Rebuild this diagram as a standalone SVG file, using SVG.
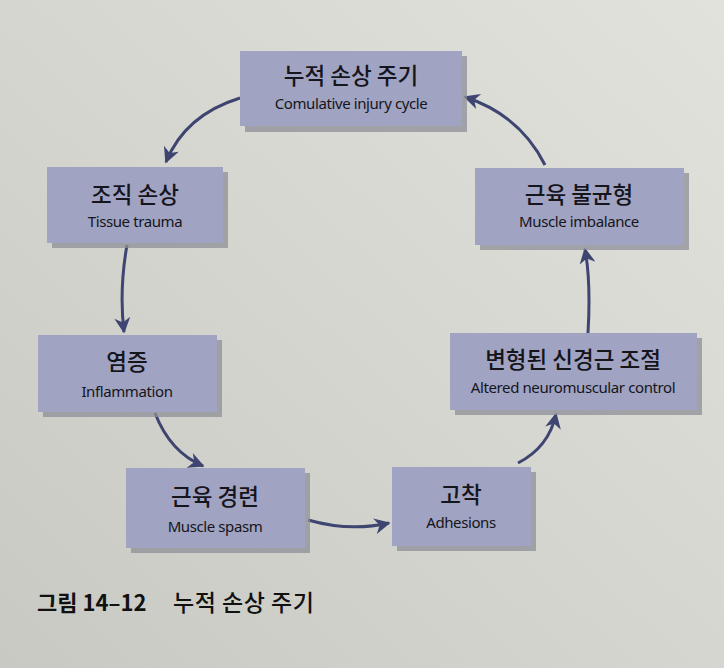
<svg xmlns="http://www.w3.org/2000/svg" width="724" height="668" viewBox="0 0 724 668">
<defs>
<linearGradient id="bg" x1="1" y1="0" x2="0" y2="1">
<stop offset="0" stop-color="#e2e2dd"/>
<stop offset="0.5" stop-color="#d5d6d0"/>
<stop offset="1" stop-color="#c8c9c3"/>
</linearGradient>
<marker id="ah" viewBox="0 0 10 10" refX="9" refY="5" markerWidth="18" markerHeight="16" markerUnits="userSpaceOnUse" orient="auto">
<path d="M0,0 L10,5 L0,10 L3,5 z" fill="#3e4570"/>
</marker>
<style>
.box{fill:#a0a3c1;}
.sh{fill:#8d8f97;opacity:0.75;}
.ko{font-family:"Noto Sans CJK KR","Noto Sans",sans-serif;font-size:22.5px;font-weight:500;fill:#15151c;text-anchor:middle;}
.en{font-family:"Noto Sans","Noto Sans CJK KR",sans-serif;font-size:15px;fill:#15151c;text-anchor:middle;letter-spacing:-0.4px;}
.cn{fill:none;stroke:#3e4570;stroke-width:3;marker-end:url(#ah);}
.cap{font-family:"Noto Sans CJK KR","Noto Sans",sans-serif;font-size:22px;font-weight:bold;fill:#111;}
</style>
</defs>
<rect width="724" height="668" fill="url(#bg)"/>
<g id="connectors">
<path class="cn" d="M240,98 Q185,115 166,162"/>
<path class="cn" d="M127,245 Q119,290 124,332"/>
<path class="cn" d="M155,413 Q170,452 203,466"/>
<path class="cn" d="M308,520 Q350,532 389,523"/>
<path class="cn" d="M518,463 Q549,447 556,414"/>
<path class="cn" d="M588,333 Q591,282 585,249"/>
<path class="cn" d="M545,165 Q520,115 465,97"/>
</g>
<g id="n-cumulative">
<rect class="sh" x="245" y="56" width="222" height="76"/>
<rect class="box" x="240" y="51" width="222" height="75"/>
<text class="ko" x="351" y="84">누적 손상 주기</text>
<text class="en" x="351" y="109">Comulative injury cycle</text>
</g>
<g id="n-tissue">
<rect class="sh" x="52" y="172" width="176" height="76"/>
<rect class="box" x="47" y="167" width="176" height="76"/>
<text class="ko" x="135" y="203">조직 손상</text>
<text class="en" x="135" y="227">Tissue trauma</text>
</g>
<g id="n-imbalance">
<rect class="sh" x="480" y="173" width="209" height="77"/>
<rect class="box" x="475" y="168" width="209" height="77"/>
<text class="ko" x="579" y="203">근육 불균형</text>
<text class="en" x="579" y="227">Muscle imbalance</text>
</g>
<g id="n-inflammation">
<rect class="sh" x="43" y="340" width="179" height="77"/>
<rect class="box" x="38" y="335" width="179" height="77"/>
<text class="ko" x="127" y="370">염증</text>
<text class="en" x="127" y="397">Inflammation</text>
</g>
<g id="n-altered">
<rect class="sh" x="455" y="338" width="247" height="77"/>
<rect class="box" x="450" y="333" width="247" height="77"/>
<text class="ko" x="573" y="368">변형된 신경근 조절</text>
<text class="en" x="573" y="393">Altered neuromuscular control</text>
</g>
<g id="n-spasm">
<rect class="sh" x="131" y="473" width="179" height="80"/>
<rect class="box" x="126" y="468" width="179" height="80"/>
<text class="ko" x="215" y="505">근육 경련</text>
<text class="en" x="215" y="532">Muscle spasm</text>
</g>
<g id="n-adhesions">
<rect class="sh" x="397" y="472" width="139" height="79"/>
<rect class="box" x="392" y="467" width="139" height="79"/>
<text class="ko" x="461" y="503">고착</text>
<text class="en" x="461" y="528">Adhesions</text>
</g>
<text class="cap" x="37" y="611">그림 14–12</text>
<text class="cap" x="173" y="611" style="font-weight:500;font-size:23px;letter-spacing:0.5px">누적 손상 주기</text>
</svg>
